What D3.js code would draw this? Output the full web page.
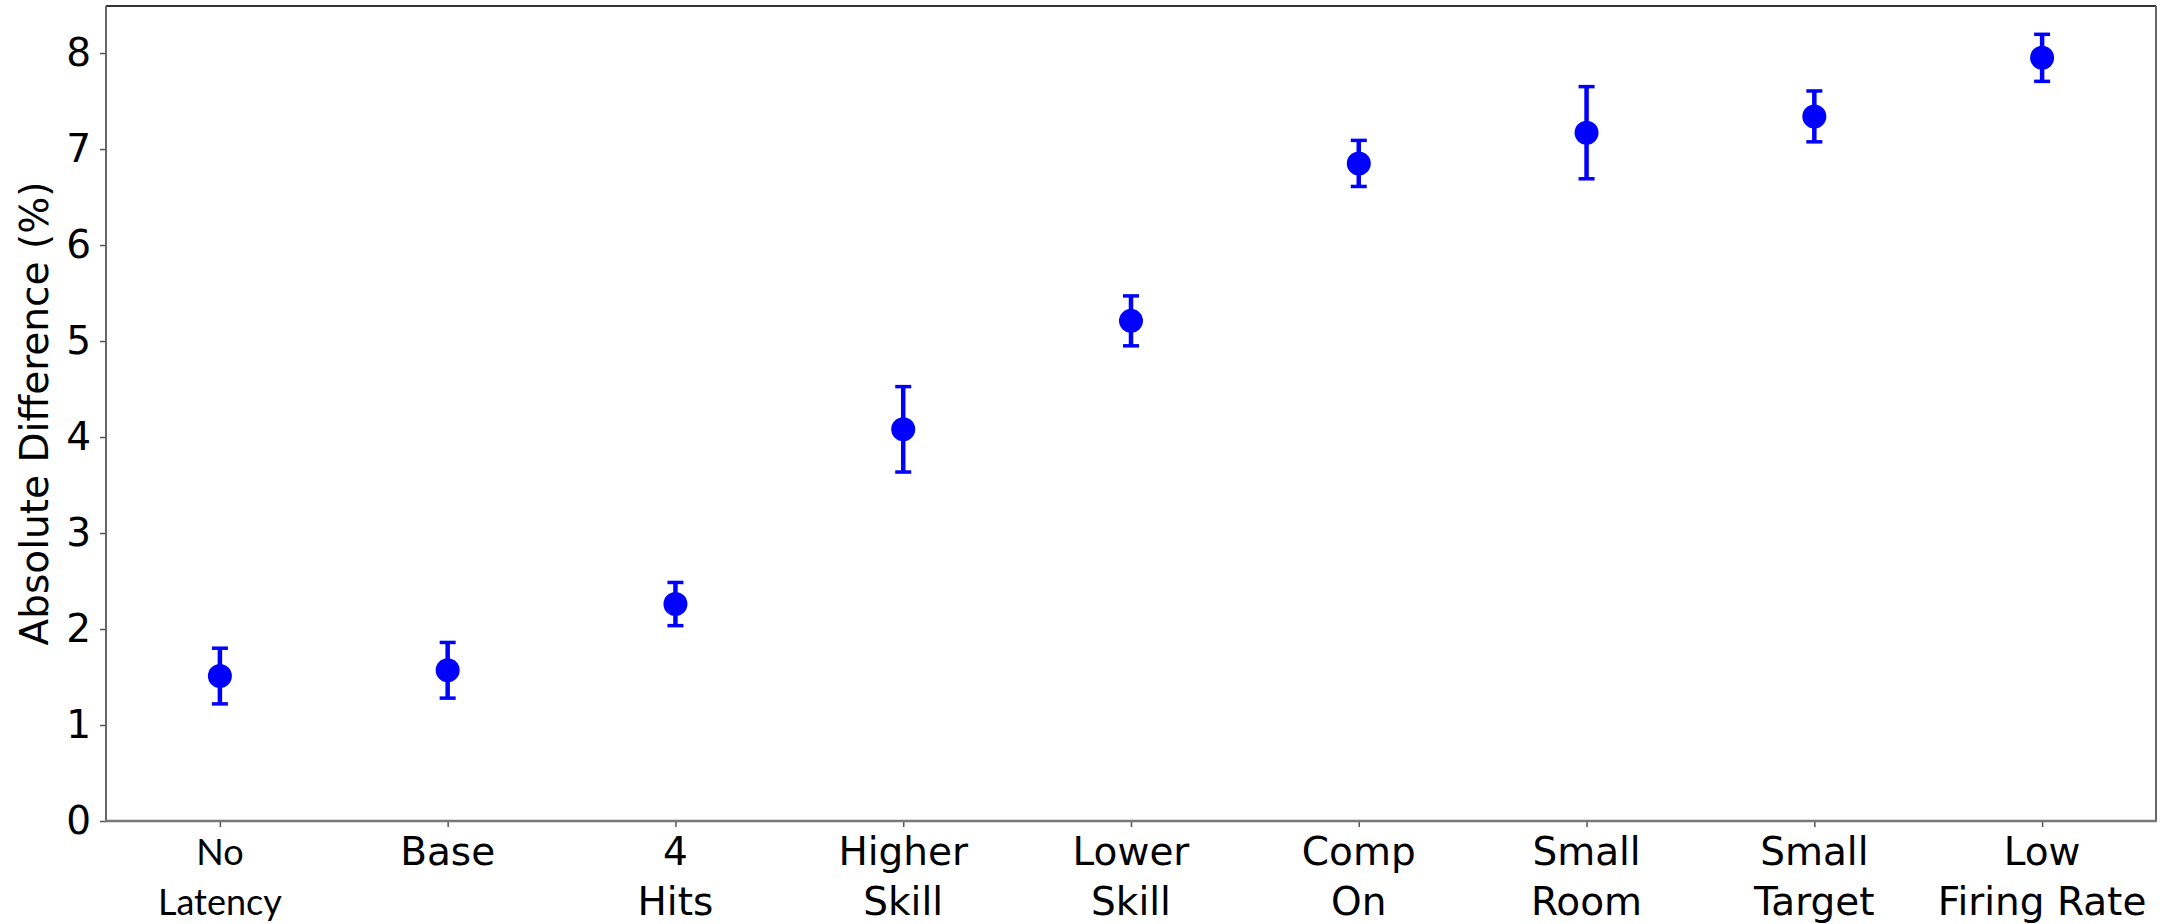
<!DOCTYPE html>
<html lang="en">
<head>
    <meta charset="UTF-8">
    <title>Absolute Difference by Condition</title>
    <style>
        body { margin: 0; background: #fff; }
        text { fill: #000; }
    </style>
</head>
<body>
    <svg id="chart" width="2176" height="924"></svg>
    <script src="https://d3js.org/d3.v7.min.js"></script>
    <script>
        // values
        var categories = ["No Latency", "Base", "4 Hits", "Higher Skill", "Lower Skill",
                          "Comp On", "Small Room", "Small Target", "Low Firing Rate"];
        var labelLines = [["No", "Latency"], ["Base"], ["4", "Hits"], ["Higher", "Skill"],
                          ["Lower", "Skill"], ["Comp", "On"], ["Small", "Room"],
                          ["Small", "Target"], ["Low", "Firing Rate"]];
        var means  = [1.51, 1.57, 2.26, 4.08, 5.21, 6.85, 7.17, 7.34, 7.95];
        var errors = [0.29, 0.29, 0.225, 0.445, 0.26, 0.24, 0.48, 0.265, 0.245];
        var yTicks = [0, 1, 2, 3, 4, 5, 6, 7, 8];

        var data = categories.map(function(c, i) {
            return { name: c, lines: labelLines[i], mean: means[i], err: errors[i] };
        });

        // plot box (window.top is reserved, so prefixed names)
        var plotLeft = 106, plotRight = 2156, plotTop = 6, plotBottom = 821;
        var svg = d3.select("#chart");

        var x = d3.scalePoint()
                  .domain(categories)
                  .range([plotLeft, plotRight])
                  .padding(0.5);

        var y = d3.scaleLinear()
                  .domain([0, 8.49])
                  .range([plotBottom, plotTop]);

        // y axis ticks + labels
        var yAxis = svg.append("g")
            .attr("transform", "translate(" + plotLeft + ",0)")
            .call(d3.axisLeft(y).tickValues(yTicks).tickFormat(d3.format("d"))
                    .tickSize(6).tickPadding(9));
        yAxis.select(".domain").remove();
        yAxis.selectAll(".tick line").attr("stroke", "#555").attr("stroke-width", 1.5);
        yAxis.selectAll(".tick text")
             .style("font-family", "'DejaVu Sans', sans-serif")
             .style("font-size", "39px")
             .attr("fill", "#000");

        // x axis ticks
        var xAxis = svg.append("g")
            .attr("transform", "translate(0," + plotBottom + ")")
            .call(d3.axisBottom(x).tickSize(6).tickFormat(""));
        xAxis.select(".domain").remove();
        xAxis.selectAll(".tick line").attr("stroke", "#555").attr("stroke-width", 1.5);

        // multi-line category labels
        var xl = svg.append("g").selectAll("text")
            .data(data)
            .enter().append("text")
            .attr("text-anchor", "middle")
            .style("font-family", function(d) { return d.name === "No Latency" ? "Lato, sans-serif" : "'DejaVu Sans', sans-serif"; })
            .style("font-size", function(d) { return d.name === "No Latency" ? "36px" : "39px"; });
        xl.selectAll("tspan")
            .data(function(d) { return d.lines.map(function(l) { return { t: l, c: d.name }; }); })
            .enter().append("tspan")
            .attr("x", function(d) { return x(d.c); })
            .attr("y", function(d, i) { return 865 + i * 50; })
            .text(function(d) { return d.t; });

        // frame
        svg.append("line").attr("x1", plotLeft).attr("x2", plotRight).attr("y1", plotTop).attr("y2", plotTop)
           .attr("stroke", "#333").attr("stroke-width", 2);
        svg.append("line").attr("x1", plotLeft).attr("x2", plotLeft).attr("y1", plotTop).attr("y2", plotBottom)
           .attr("stroke", "#666").attr("stroke-width", 2);
        svg.append("line").attr("x1", plotRight).attr("x2", plotRight).attr("y1", plotTop).attr("y2", plotBottom)
           .attr("stroke", "#666").attr("stroke-width", 2);
        svg.append("line").attr("x1", plotLeft - 1).attr("x2", plotRight + 1).attr("y1", plotBottom).attr("y2", plotBottom)
           .attr("stroke", "#777").attr("stroke-width", 2.5);

        // y label
        svg.append("text")
           .attr("transform", "translate(48," + ((plotTop + plotBottom) / 2) + ") rotate(-90)")
           .attr("text-anchor", "middle")
           .style("font-family", "'DejaVu Sans', sans-serif")
           .style("font-size", "39px")
           .text("Absolute Difference (%)");

        // error bars
        var eb = svg.append("g").selectAll("g")
            .data(data)
            .enter().append("g");

        eb.append("line")
          .attr("x1", function(d) { return x(d.name); })
          .attr("x2", function(d) { return x(d.name); })
          .attr("y1", function(d) { return y(d.mean - d.err); })
          .attr("y2", function(d) { return y(d.mean + d.err); })
          .attr("stroke", "#0000ff").attr("stroke-width", 4.5);

        eb.selectAll(".cap")
          .data(function(d) { return [{ name: d.name, v: d.mean - d.err }, { name: d.name, v: d.mean + d.err }]; })
          .enter().append("line")
          .attr("class", "cap")
          .attr("x1", function(d) { return x(d.name) - 8; })
          .attr("x2", function(d) { return x(d.name) + 8; })
          .attr("y1", function(d) { return y(d.v); })
          .attr("y2", function(d) { return y(d.v); })
          .attr("stroke", "#0000ff").attr("stroke-width", 3.5);

        eb.append("circle")
          .attr("cx", function(d) { return x(d.name); })
          .attr("cy", function(d) { return y(d.mean); })
          .attr("r", 12)
          .attr("fill", "#0000ff");
    </script>
</body>
</html>
